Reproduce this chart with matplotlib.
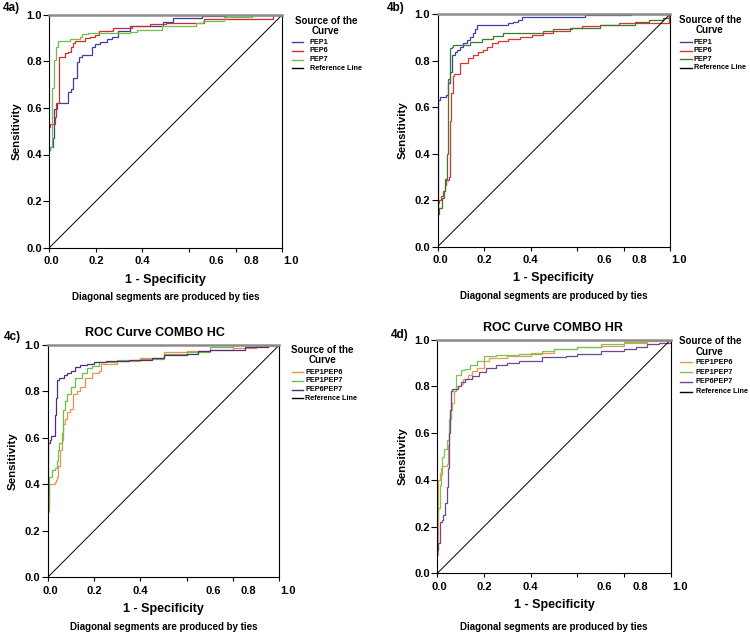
import matplotlib
matplotlib.use("Agg")
import matplotlib.pyplot as plt
from matplotlib.lines import Line2D

plt.rcParams['font.family'] = ['Liberation Sans', 'DejaVu Sans']
plt.rcParams['font.weight'] = 'bold'

# ---------------- data ----------------
panel_labels = ["4a)", "4b)", "4c)", "4d)"]
panel_titles = ["", "", "ROC Curve COMBO HC", "ROC Curve COMBO HR"]
xlabel = "1 - Specificity"
ylabel = "Sensitivity"
footnote = "Diagonal segments are produced by ties"
legend_title = "Source of the\nCurve"
tick_values = [0.0, 0.2, 0.4, 0.6, 0.8, 1.0]
tick_labels = ["0.0", "0.2", "0.4", "0.6", "0.8", "1.0"]

names_ab = ["PEP1", "PEP6", "PEP7"]
names_cd = ["PEP1PEP6", "PEP1PEP7", "PEP6PEP7"]

# panel a
a_pep1_x = [0.0, 0.003, 0.014, 0.020, 0.034, 0.082, 0.092, 0.100, 0.103, 0.120, 0.129, 0.139, 0.182, 0.196,
            0.217, 0.246, 0.268, 0.296, 0.346, 0.489, 0.532, 0.655, 0.760, 1.0]
a_pep1_y = [0.42, 0.433, 0.469, 0.595, 0.619, 0.670, 0.680, 0.694, 0.730, 0.798, 0.820, 0.827, 0.863, 0.874,
            0.884, 0.894, 0.906, 0.931, 0.951, 0.970, 0.984, 0.993, 1.0, 1.0]
a_pep6_x = [0.0, 0.003, 0.024, 0.029, 0.043, 0.067, 0.082, 0.092, 0.100, 0.110, 0.153, 0.175, 0.196, 0.215,
            0.275, 0.353, 0.432, 0.500, 0.664, 0.960, 1.0]
a_pep6_y = [0.52, 0.531, 0.562, 0.619, 0.820, 0.834, 0.841, 0.863, 0.877, 0.888, 0.898, 0.906, 0.913, 0.931,
            0.941, 0.951, 0.960, 0.965, 0.980, 1.0, 1.0]
a_pep7_x = [0.0, 0.003, 0.010, 0.021, 0.029, 0.039, 0.089, 0.132, 0.139, 0.167, 0.346, 0.375, 0.482, 0.630,
            0.660, 0.750, 0.870, 1.0]
a_pep7_y = [0.42, 0.433, 0.684, 0.805, 0.863, 0.888, 0.894, 0.903, 0.917, 0.920, 0.927, 0.934, 0.951, 0.965,
            0.975, 0.990, 1.0, 1.0]

# panel b
b_pep1_x = [0.0, 0.003, 0.010, 0.036, 0.046, 0.053, 0.060, 0.075, 0.082, 0.096, 0.110, 0.125, 0.139, 0.151,
            0.161, 0.168, 0.304, 0.326, 0.347, 0.362, 0.634, 0.830, 1.0]
b_pep1_y = [0.13, 0.631, 0.646, 0.653, 0.703, 0.753, 0.825, 0.839, 0.846, 0.861, 0.875, 0.890, 0.904, 0.918,
            0.935, 0.954, 0.961, 0.968, 0.976, 0.987, 0.997, 1.0, 1.0]
b_pep6_x = [0.0, 0.004, 0.014, 0.022, 0.030, 0.037, 0.048, 0.052, 0.057, 0.064, 0.072, 0.096, 0.132, 0.154,
            0.175, 0.197, 0.211, 0.232, 0.261, 0.304, 0.354, 0.405, 0.455, 0.498, 0.570, 0.620, 0.700, 0.780,
            0.995, 1.0]
b_pep6_y = [0.19, 0.20, 0.22, 0.24, 0.265, 0.287, 0.30, 0.54, 0.66, 0.735, 0.743, 0.789, 0.811, 0.825,
            0.839, 0.846, 0.861, 0.878, 0.887, 0.892, 0.901, 0.911, 0.921, 0.930, 0.940, 0.950, 0.955, 0.962,
            1.0, 1.0]
b_pep7_x = [0.0, 0.004, 0.020, 0.027, 0.030, 0.040, 0.042, 0.046, 0.053, 0.060, 0.068, 0.118, 0.139, 0.189,
            0.240, 0.283, 0.455, 0.498, 0.580, 0.700, 0.850, 0.910, 0.970, 1.0]
b_pep7_y = [0.14, 0.165, 0.21, 0.24, 0.29, 0.29, 0.40, 0.72, 0.854, 0.861, 0.868, 0.868, 0.882, 0.892,
            0.907, 0.918, 0.928, 0.935, 0.940, 0.955, 0.965, 0.975, 0.985, 1.0]

# panel c
c_p16_x = [0.0, 0.005, 0.030, 0.035, 0.040, 0.045, 0.055, 0.060, 0.065, 0.075, 0.085, 0.095, 0.110, 0.110,
           0.125, 0.140, 0.160, 0.190, 0.220, 0.230, 0.300, 0.400, 0.500, 0.600, 0.700, 0.800, 0.900, 1.0]
c_p16_y = [0.28, 0.40, 0.41, 0.42, 0.43, 0.48, 0.55, 0.59, 0.66, 0.68, 0.71, 0.725, 0.725, 0.79,
           0.80, 0.82, 0.86, 0.88, 0.89, 0.92, 0.93, 0.945, 0.97, 0.975, 0.98, 0.985, 0.995, 1.0]
c_p17_x = [0.0, 0.005, 0.020, 0.030, 0.040, 0.045, 0.050, 0.060, 0.065, 0.075, 0.085, 0.100, 0.120, 0.150,
           0.170, 0.190, 0.220, 0.300, 0.400, 0.500, 0.600, 0.700, 0.800, 1.0]
c_p17_y = [0.30, 0.43, 0.46, 0.47, 0.50, 0.55, 0.58, 0.62, 0.72, 0.76, 0.79, 0.82, 0.86, 0.88,
           0.90, 0.91, 0.925, 0.935, 0.94, 0.96, 0.97, 0.99, 1.0, 1.0]
c_p67_x = [0.0, 0.002, 0.010, 0.015, 0.025, 0.030, 0.035, 0.040, 0.050, 0.070, 0.085, 0.100, 0.120, 0.140,
           0.170, 0.200, 0.250, 0.350, 0.450, 0.500, 0.600, 0.650, 0.700, 0.850, 0.950, 1.0]
c_p67_y = [0.36, 0.58, 0.59, 0.61, 0.61, 0.70, 0.77, 0.85, 0.86, 0.87, 0.88, 0.89, 0.905, 0.915,
           0.92, 0.925, 0.93, 0.935, 0.945, 0.955, 0.96, 0.975, 0.98, 0.99, 1.0, 1.0]

# panel d
d_p16_x = [0.0, 0.002, 0.010, 0.015, 0.020, 0.040, 0.045, 0.050, 0.055, 0.065, 0.070, 0.080, 0.100, 0.110,
           0.130, 0.150, 0.170, 0.200, 0.220, 0.300, 0.400, 0.500, 0.600, 0.700, 0.800, 0.900, 1.0]
d_p16_y = [0.08, 0.40, 0.43, 0.45, 0.46, 0.47, 0.55, 0.62, 0.70, 0.73, 0.78, 0.80, 0.81, 0.83,
           0.85, 0.865, 0.88, 0.91, 0.92, 0.93, 0.945, 0.96, 0.97, 0.975, 0.985, 0.995, 1.0]
d_p17_x = [0.0, 0.005, 0.010, 0.015, 0.020, 0.030, 0.040, 0.050, 0.060, 0.080, 0.100, 0.120, 0.140, 0.170,
           0.200, 0.250, 0.350, 0.450, 0.500, 0.600, 0.700, 0.800, 0.900, 1.0]
d_p17_y = [0.25, 0.28, 0.38, 0.42, 0.50, 0.53, 0.57, 0.66, 0.78, 0.85, 0.87, 0.875, 0.89, 0.91,
           0.93, 0.935, 0.94, 0.95, 0.96, 0.97, 0.98, 0.99, 1.0, 1.0]
d_p67_x = [0.0, 0.005, 0.010, 0.020, 0.025, 0.035, 0.040, 0.045, 0.050, 0.055, 0.060, 0.065, 0.090, 0.100,
           0.120, 0.150, 0.180, 0.210, 0.250, 0.300, 0.350, 0.450, 0.550, 0.600, 0.700, 0.800, 0.850, 0.900,
           0.950, 1.0]
d_p67_y = [0.10, 0.13, 0.22, 0.23, 0.25, 0.30, 0.37, 0.45, 0.60, 0.70, 0.78, 0.79, 0.80, 0.82,
           0.83, 0.845, 0.86, 0.88, 0.89, 0.90, 0.91, 0.925, 0.93, 0.94, 0.95, 0.96, 0.97, 0.98,
           0.985, 1.0]

# ---------------- styling ----------------
W, H = 750, 635
fig = plt.figure(figsize=(7.5, 6.35), dpi=100)


def fx(px):
    return px / W


def fy(py):
    return 1 - py / H


# axes boxes in pixels: left, top, right, bottom
boxes = [(49.3, 14.7, 282.3, 247.7), (437.7, 14.3, 670.0, 246.7),
         (47.7, 345.0, 279.3, 577.3), (437.3, 339.7, 670.7, 573.3)]

colors_a = ["#3b3f9e", "#d62a2a", "#6fbf4a"]
colors_b = ["#3943a8", "#dd3232", "#3b7a2e"]
colors_c = ["#eb9447", "#6cbf4a", "#562a78"]
colors_d = ["#ec9a4a", "#78c35a", "#6a4a8e"]

series = [
    [(a_pep1_x, a_pep1_y), (a_pep6_x, a_pep6_y), (a_pep7_x, a_pep7_y)],
    [(b_pep1_x, b_pep1_y), (b_pep6_x, b_pep6_y), (b_pep7_x, b_pep7_y)],
    [(c_p16_x, c_p16_y), (c_p17_x, c_p17_y), (c_p67_x, c_p67_y)],
    [(d_p16_x, d_p16_y), (d_p17_x, d_p17_y), (d_p67_x, d_p67_y)],
]
colors = [colors_a, colors_b, colors_c, colors_d]
names = [names_ab, names_ab, names_cd, names_cd]

# label placements (pixels)
panel_label_pos = [(11, 8), (396, 8), (12, 337), (400, 335)]
title_pos = [None, None, (155, 333), (553, 328)]
ylabel_x = [17, 403, 13, 403]
xlabel_y = [280, 278, 609, 605]
foot_y = [297, 296, 627, 627]
leg_title_pos = [(326, 26), (710, 25), (322.5, 355), (710, 346.5)]
leg_line_x = [(291.7, 303.0), (680.0, 692.0), (292.0, 303.3), (680.0, 692.0)]
leg_text_x = [310, 694, 305, 695.7]
leg_y0 = [42.3, 42.3, 372.3, 362.3]
leg_dy = [8.6, 8.4, 8.6, 9.8]
xtick_label_pos = [0.01, 0.2, 0.4, 0.716, 0.868, 1.038]

for i in range(4):
    l, t, r, b = boxes[i]
    ax = fig.add_axes([fx(l), fy(b), fx(r - l), (b - t) / H])
    ax.set_xlim(0, 1)
    ax.set_ylim(0, 1)
    for (xs, ys), c in zip(series[i], colors[i]):
        ax.plot(xs, ys, drawstyle="steps-post", color=c, lw=0.9, solid_joinstyle="miter")
    ax.plot([0, 1], [0, 1], color="black", lw=0.7)

    for s in ["left", "bottom", "right"]:
        ax.spines[s].set_color("black")
        ax.spines[s].set_linewidth(0.8)
    ax.spines["top"].set_color("#8c8c8c")
    ax.spines["top"].set_linewidth(1.8)

    ax.set_yticks(tick_values)
    ax.set_yticklabels(tick_labels, fontsize=8, fontweight="bold")
    ax.set_xticks(tick_values)
    ax.set_xticklabels([""] * len(tick_values))
    ax.tick_params(axis="y", direction="out", length=4.3, width=0.8, pad=1.2)
    ax.tick_params(axis="x", direction="out", length=3.0, width=0.8, pad=1)
    for pos, lab in zip(xtick_label_pos, tick_labels):
        ax.text(pos, -0.057, lab, transform=ax.get_xaxis_transform(), ha="center", va="center",
                fontsize=8, fontweight="bold", clip_on=False)

    fig.text(fx(ylabel_x[i]), fy((t + b) / 2), ylabel, rotation=90, ha="center", va="center",
             fontsize=8.2, fontweight="bold")
    fig.text(fx((l + r) / 2), fy(xlabel_y[i]), xlabel, ha="center", va="center",
             fontsize=9, fontweight="bold")
    fig.text(fx((l + r) / 2), fy(foot_y[i]), footnote, ha="center", va="center",
             fontsize=7, fontweight="bold")
    px, py = panel_label_pos[i]
    fig.text(fx(px), fy(py), panel_labels[i], ha="center", va="center", fontsize=8.5, fontweight="bold")
    if title_pos[i] is not None:
        tx, ty = title_pos[i]
        fig.text(fx(tx), fy(ty), panel_titles[i], ha="center", va="center", fontsize=9, fontweight="bold")

    # legend
    lx, ly = leg_title_pos[i]
    fig.text(fx(lx), fy(ly), legend_title, ha="center", va="center", fontsize=7, fontweight="bold",
             linespacing=1.1)
    x0, x1 = leg_line_x[i]
    entries = list(zip(names[i], colors[i])) + [("Reference Line", "black")]
    for k, (nm, c) in enumerate(entries):
        yy = leg_y0[i] + k * leg_dy[i]
        fig.add_artist(Line2D([fx(x0), fx(x1)], [fy(yy), fy(yy)], color=c, lw=1.0,
                              transform=fig.transFigure))
        fig.text(fx(leg_text_x[i]), fy(yy), nm, ha="left", va="center", fontsize=5.2, fontweight="bold")

fig.savefig("out.png", dpi=100)
